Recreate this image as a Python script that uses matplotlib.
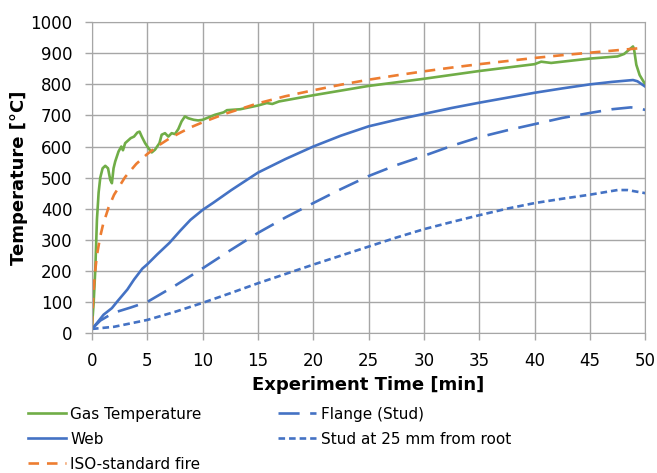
import numpy as np
import matplotlib
matplotlib.use('Agg')
import matplotlib.pyplot as plt

# values
gas_t = [0, 0.15, 0.3, 0.45, 0.6, 0.75, 0.96, 1.2, 1.45, 1.65, 1.8, 1.95, 2.1, 2.4, 2.65, 2.8,
         3.0, 3.5, 3.8, 4.1, 4.3, 4.5, 4.8, 5.1, 5.4, 5.7, 6.1, 6.3, 6.6, 6.9, 7.2, 7.5, 7.8,
         8.1, 8.4, 8.7, 9.2, 9.6, 10, 11.1, 11.9, 12.2, 13.4, 15, 15.8, 16.3, 16.9, 20, 25,
         30, 35, 40, 40.6, 41.5, 45, 47.5, 48.1, 48.9, 49.0, 49.2, 49.5, 50]
gas_T = [20, 97, 205, 366, 452, 500, 530, 538, 530, 493, 482, 530, 552, 584, 600, 588,
         611, 627, 632, 645, 648, 632, 611, 595, 581, 590, 611, 638, 643, 632, 643, 640, 656,
         681, 697, 691, 686, 684, 686, 702, 710, 717, 720, 732, 740, 737, 745, 765, 795,
         818, 843, 865, 873, 869, 883, 890, 898, 922, 912, 863, 830, 800]

iso_t = [0, 0.1, 0.2, 0.3, 0.4, 0.5, 0.75, 1, 1.5, 2, 3, 4, 5, 6, 7, 8, 9, 10, 12, 15,
         17.5, 20, 22.5, 25, 27.5, 30, 32.5, 35, 37.5, 40, 42.5, 45, 47.5, 50]
iso_T = [20, 108, 163, 203, 235, 261, 311, 349, 404, 445, 502, 544, 576, 603, 626, 645,
         663, 678, 705, 739, 762, 781, 799, 815, 829, 842, 854, 865, 875, 885, 894, 902,
         910, 918]

web_t = [0, 0.45, 1.05, 1.8, 2.3, 3.2, 3.8, 4.55, 5, 5.9, 7, 8, 8.9, 10, 11, 12.6, 15,
         17.5, 20, 22.5, 25, 27.5, 30, 32.5, 35, 37.5, 40, 42.5, 45, 47, 48.9, 49.3, 50]
web_T = [13, 32, 59, 80, 102, 140, 172, 207, 221, 253, 290, 330, 364, 396, 420, 460, 516,
         560, 600, 635, 665, 686, 705, 724, 741, 757, 773, 787, 800, 808, 814, 810, 793]

flange_t = [0, 0.75, 1.95, 3.5, 5, 7.5, 10, 12.5, 15, 17.5, 20, 22.5, 25, 27.5, 30, 32.5,
            35, 37.5, 40, 42.5, 45, 47, 48.7, 49.4, 50]
flange_T = [13, 40, 65, 82, 100, 152, 208, 266, 322, 372, 418, 463, 505, 540, 570, 602,
            630, 652, 672, 692, 708, 720, 726, 723, 718]

stud_t = [0, 2, 5, 7.5, 10, 12.5, 15, 17.5, 20, 22.5, 25, 27.5, 30, 32.5, 35, 37.5, 40,
          42.5, 45, 47.5, 48.4, 49.2, 50]
stud_T = [13, 20, 42, 68, 97, 128, 160, 190, 220, 249, 278, 307, 334, 357, 379, 400, 418,
          432, 445, 460, 460, 455, 450]

x_ticks = np.arange(0, 51, 5)
y_ticks = np.arange(0, 1001, 100)

green = '#70AD47'
blue = '#4472C4'
orange = '#ED7D31'
grid_c = '#A6A6A6'

plt.rcParams['font.family'] = ['DejaVu Sans']

fig = plt.figure(figsize=(6.57, 4.73), dpi=100)
ax = fig.add_axes([0.140, 0.296, 0.842, 0.657])

l_gas, = ax.plot(gas_t, gas_T, color=green, lw=1.9, label='Gas Temperature')
l_web, = ax.plot(web_t, web_T, color=blue, lw=1.9, label='Web')
l_iso, = ax.plot(iso_t, iso_T, color=orange, lw=1.9, dashes=(4, 3), label='ISO-standard fire')
l_fl, = ax.plot(flange_t, flange_T, color=blue, lw=1.9, dashes=(8, 4), label='Flange (Stud)')
l_st, = ax.plot(stud_t, stud_T, color=blue, lw=1.9, dashes=(2.5, 1.5),
                label='Stud at 25 mm from root')

ax.set_xlim(0, 50)
ax.set_ylim(0, 1000)
ax.set_xticks(x_ticks)
ax.set_yticks(y_ticks)
ax.grid(True, color=grid_c, lw=1)
ax.set_axisbelow(True)
for s in ax.spines.values():
    s.set_color(grid_c)
ax.tick_params(colors=grid_c, labelcolor='#000000', labelsize=12, length=5, width=1, pad=9)

ax.set_xlabel('Experiment Time [min]', fontsize=13, fontweight='bold', labelpad=4)
ax.set_ylabel('Temperature [°C]', fontsize=13, fontweight='bold', labelpad=2)

fig.legend(handles=[l_gas, l_web, l_iso, l_fl, l_st], loc='upper left',
           bbox_to_anchor=(0.042, 0.14), ncol=2, frameon=False, fontsize=11,
           handlelength=2.5, handletextpad=0.3, columnspacing=5.0, labelspacing=0.65,
           borderaxespad=0, borderpad=0)

fig.savefig('out.png', dpi=100)
